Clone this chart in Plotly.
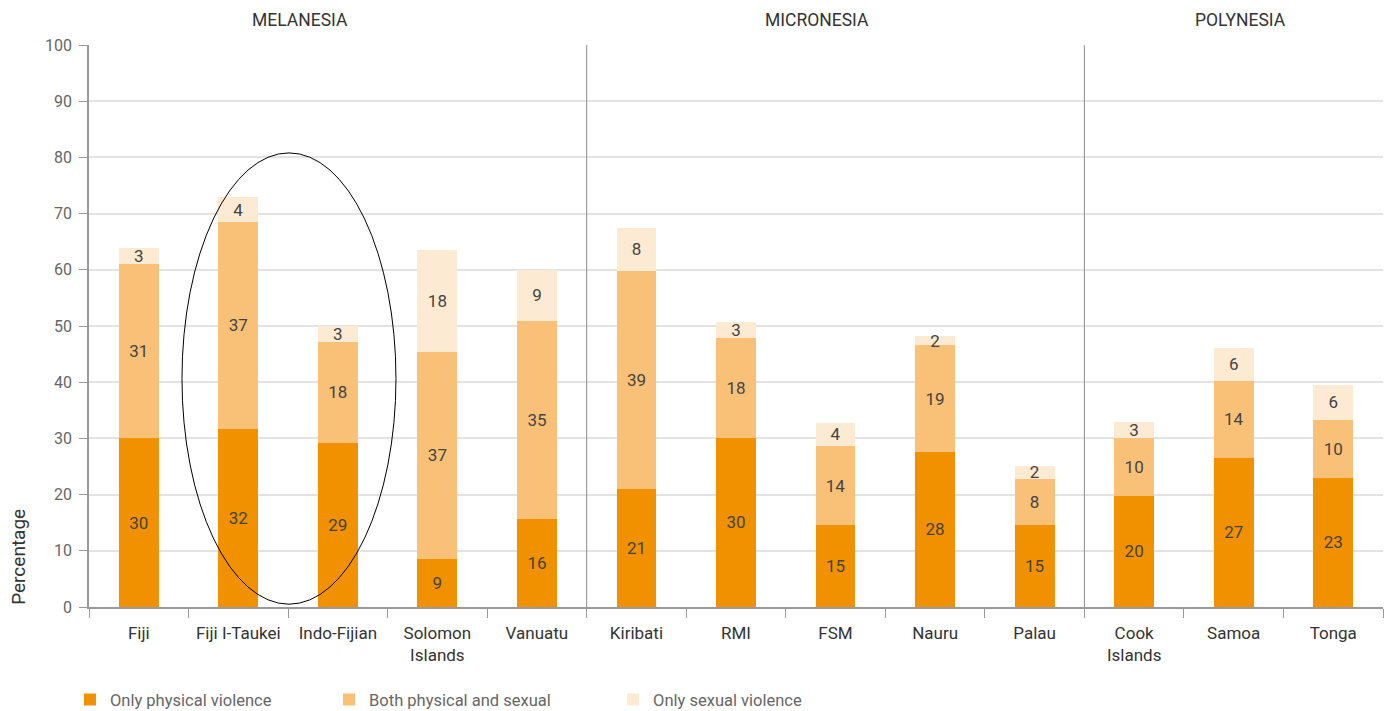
import plotly.graph_objects as go

categories = ["Fiji", "Fiji I-Taukei", "Indo-Fijian", "Solomon<br>Islands", "Vanuatu",
              "Kiribati", "RMI", "FSM", "Nauru", "Palau",
              "Cook<br>Islands", "Samoa", "Tonga"]
only_physical = [30.0, 31.7, 29.2, 8.6, 15.7, 21.0, 30.1, 14.6, 27.6, 14.6, 19.8, 26.6, 23.0]
both_phys_sex = [31.0, 36.8, 18.0, 36.8, 35.2, 38.8, 17.8, 14.0, 19.0, 8.2, 10.3, 13.7, 10.3]
only_sexual = [2.9, 4.4, 2.8, 18.1, 9.1, 7.7, 2.8, 4.2, 1.6, 2.3, 2.8, 5.7, 6.2]
regions = ["MELANESIA", "MICRONESIA", "POLYNESIA"]
region_label_x = [1.62, 6.81, 11.07]
region_separators = [4.5, 9.5]

FONT = "Roboto"
x = list(range(len(categories)))

fig = go.Figure()
series = [
    ("Only physical violence", only_physical, "#F29100", "legend", -0.0147),
    ("Both physical and sexual", both_phys_sex, "#F9C077", "legend2", 0.1855),
    ("Only sexual violence", only_sexual, "#FDEAD2", "legend3", 0.405),
]
legend_font = dict(family=FONT, size=16.5, color="#666666")
legends = {}
for name, vals, col, leg, lx in series:
    fig.add_trace(go.Bar(
        x=x, y=vals, name=name, marker=dict(color=col, line=dict(width=0)),
        width=0.4, texttemplate="%{y:.0f}", textposition="inside",
        insidetextanchor="middle", textangle=0,
        textfont=dict(family=FONT, size=17, color="#444444"),
        hoverinfo="skip", legend=leg, showlegend=True,
    ))
    legends[leg] = dict(orientation="h", x=lx, xanchor="left", y=-0.165, yanchor="middle",
                        font=legend_font, itemclick=False, bgcolor="rgba(0,0,0,0)")

shapes = []
for sx in region_separators:
    shapes.append(dict(type="line", xref="x", yref="y", x0=sx, x1=sx, y0=100, y1=-1.5,
                       line=dict(color="#8c8c8c", width=1)))
shapes.append(dict(type="circle", xref="x", yref="y", x0=0.434, x1=2.584, y0=0.5, y1=80.8,
                   line=dict(color="#000000", width=1)))

annotations = []
for lab, lx in zip(regions, region_label_x):
    annotations.append(dict(text=lab, x=lx, xref="x", y=1.044, yref="paper",
                            xanchor="center", yanchor="middle",
                            showarrow=False, font=dict(family=FONT, size=17.5, color="#333333")))
annotations.append(dict(text="Percentage", textangle=-90, x=-0.055, xref="paper",
                        y=0, yref="paper", yanchor="bottom", xanchor="center",
                        showarrow=False, font=dict(family=FONT, size=19, color="#333333")))

fig.update_layout(
    width=1389, height=711,
    margin=dict(l=89, r=6, t=45, b=104, autoexpand=False),
    paper_bgcolor="white", plot_bgcolor="white",
    barmode="stack", bargap=0.6,
    uniformtext=dict(minsize=16, mode="show"),
    showlegend=True,
    shapes=shapes, annotations=annotations,
    font=dict(family=FONT),
    **legends,
)
fig.update_xaxes(
    range=[-0.5, 12.5], tickmode="array", tickvals=x, ticktext=categories,
    ticks="", showline=True, linecolor="#9a9a9a", linewidth=1.5, showgrid=False, zeroline=False,
    tickfont=dict(family=FONT, size=17, color="#333333"), ticklabelstandoff=10,
    minor=dict(tickmode="array", tickvals=[i + 0.5 for i in range(-1, 13)],
               ticks="outside", ticklen=9, tickcolor="#9a9a9a", tickwidth=1, showgrid=False),
)
fig.update_yaxes(
    range=[0, 100], tickmode="linear", tick0=0, dtick=10,
    showline=True, linecolor="#9a9a9a", linewidth=1.5,
    ticks="outside", ticklen=8, tickcolor="#9a9a9a",
    showgrid=True, gridcolor="#e3e3e3", gridwidth=1.5, zeroline=False,
    tickfont=dict(family=FONT, size=16, color="#666666"), ticklabelstandoff=4,
)

fig.write_html("out.html", config={"displayModeBar": False},
               post_script="document.body.style.margin='0';")
